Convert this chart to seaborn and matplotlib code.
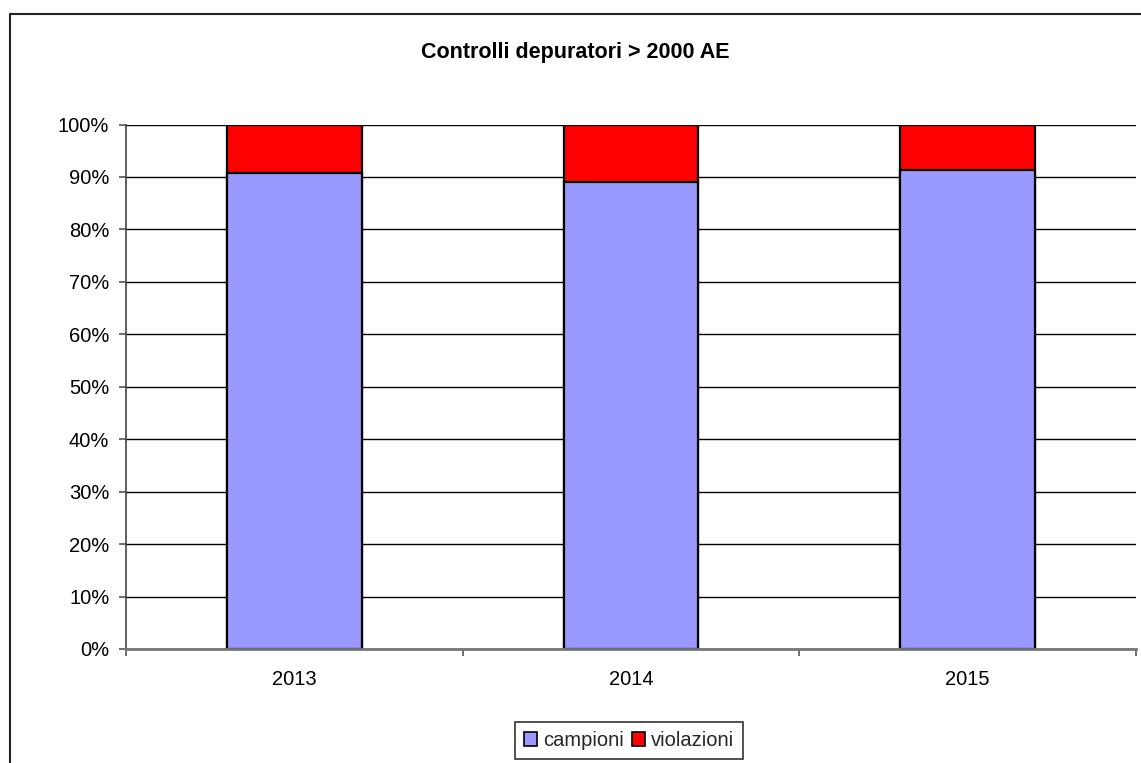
import matplotlib
matplotlib.use("Agg")
import matplotlib.pyplot as plt
from matplotlib.lines import Line2D
from matplotlib.patches import Patch
from matplotlib.ticker import FuncFormatter, FixedLocator
import pandas as pd
import seaborn as sns

# Data: share of samples (%) per year
anni = ["2013", "2014", "2015"]
campioni = [90.7, 89.1, 91.4]
violazioni = [9.3, 10.9, 8.6]
y_ticks = [0, 10, 20, 30, 40, 50, 60, 70, 80, 90, 100]

titolo = "Controlli depuratori > 2000 AE"
col_campioni = "#9999FF"
col_violazioni = "#FF0000"

sns.set_theme(style="white")
plt.rcParams["font.family"] = ["Liberation Sans", "DejaVu Sans"]

df = pd.DataFrame({
    "anno": anni,
    "campioni": campioni,
    "violazioni": violazioni,
})
df["totale"] = df["campioni"] + df["violazioni"]

W, H = 1141, 763
fig = plt.figure(figsize=(W / 100, H / 100), dpi=100)
ax = fig.add_axes([126 / W, 114 / H, 1010 / W, 524.5 / H])

# Stacked columns: full height in red, blue share drawn on top
sns.barplot(data=df, x="anno", y="totale", color=col_violazioni, width=0.4,
            edgecolor="black", linewidth=1.6, saturation=1, ax=ax, zorder=3)
sns.barplot(data=df, x="anno", y="campioni", color=col_campioni, width=0.4,
            edgecolor="black", linewidth=1.6, saturation=1, ax=ax, zorder=4)

ax.set_xlim(-0.5, 2.5)
ax.set_ylim(0, 100)
ax.set_xlabel("")
ax.set_ylabel("")

ax.yaxis.set_major_locator(FixedLocator(y_ticks))
ax.yaxis.set_major_formatter(FuncFormatter(lambda v, p: f"{v:.0f}%"))
ax.grid(axis="y", color="black", linewidth=1.0, zorder=0)
ax.set_axisbelow(True)

# Category labels centred, tick marks on category boundaries
ax.set_xticks(range(len(anni)))
ax.set_xticklabels(anni)
ax.set_xticks([-0.5, 0.5, 1.5, 2.5], minor=True)
ax.tick_params(axis="x", which="major", length=0, pad=15, labelsize=14.5, colors="black")
ax.tick_params(axis="x", which="minor", length=5, width=1.2, color="#555555", direction="out")
ax.tick_params(axis="y", which="major", length=5, width=1.2, color="#555555",
               direction="out", pad=7, labelsize=14.5, labelcolor="black")
ax.xaxis.set_tick_params(bottom=True, which="both")
ax.yaxis.set_tick_params(left=True)

for side in ("top", "right"):
    ax.spines[side].set_visible(False)
ax.spines["left"].set_color("#444444")
ax.spines["left"].set_linewidth(1.2)
ax.spines["bottom"].set_color("#777777")
ax.spines["bottom"].set_linewidth(2.0)
ax.spines["bottom"].set_zorder(5)

fig.text(575 / W, 1 - 52.5 / H, titolo, ha="center", va="center",
         fontsize=15.5, fontweight="bold", color="black")

handles = [Patch(facecolor=col_campioni, edgecolor="black", linewidth=1.2, label="campioni"),
           Patch(facecolor=col_violazioni, edgecolor="black", linewidth=1.2, label="violazioni")]
leg = fig.legend(handles=handles, loc="upper center", bbox_to_anchor=(629 / W, 1 - 722 / H),
                 ncol=2, frameon=True, fancybox=False, fontsize=14.5,
                 handlelength=0.65, handleheight=0.65, handletextpad=0.3,
                 columnspacing=0.4, borderpad=0.45, borderaxespad=0)
leg.get_frame().set_edgecolor("black")
leg.get_frame().set_linewidth(1.2)

# Outer chart frame (left and top edges)
fig.add_artist(Line2D([9.5 / W, 9.5 / W], [0, 1 - 14 / H], transform=fig.transFigure,
                      color="#222222", linewidth=1.5))
fig.add_artist(Line2D([9.5 / W, 1], [1 - 14 / H, 1 - 14 / H], transform=fig.transFigure,
                      color="#222222", linewidth=1.5))

fig.savefig("out.png", dpi=100, facecolor="white")
